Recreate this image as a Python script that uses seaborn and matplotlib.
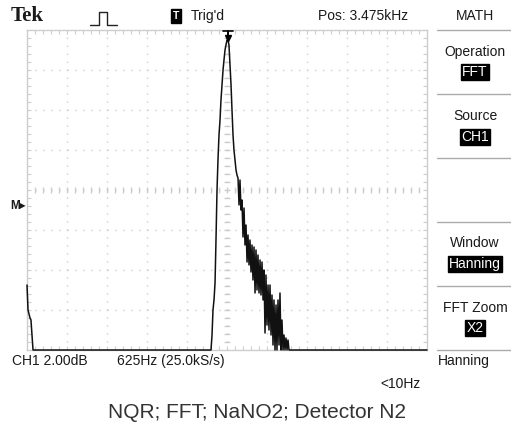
import matplotlib
matplotlib.use("Agg")
import matplotlib.pyplot as plt
from matplotlib.lines import Line2D
from matplotlib import font_manager
import seaborn as sns
import pandas as pd

# ---- data (FFT trace: frequency in Hz, level in dB above screen bottom) ----
freq_hz = [350, 366, 397, 412, 428, 444,
           3225, 3241, 3256, 3272, 3288, 3303, 3319, 3334, 3350, 3366, 3381, 3397,
           3413, 3428, 3444, 3459, 3475, 3491, 3506, 3522, 3538, 3553, 3569, 3584,
           3600, 3616, 3631,
           3647, 3663, 3678, 3694, 3709, 3725, 3741, 3756, 3772, 3788, 3803, 3819,
           3834, 3850, 3866, 3881, 3897, 3913, 3928, 3944, 3959, 3975, 3991, 4006,
           4022, 4038, 4053, 4069, 4084, 4100, 4116, 4131, 4147, 4163, 4178, 4194,
           4209, 4225, 4241, 4256, 4272, 4288, 4303, 4319, 4334, 4350, 4366, 4381,
           4397, 4413, 4428, 4444, 4459, 6600]
level_db = [3.25, 2.0, 1.6, 1.5, 0.75, 0.0,
            0.0, 0.75, 2.0, 2.5, 3.35, 5.5, 8.0, 9.5, 10.75, 11.5, 12.5, 13.25,
            14.0, 14.5, 15.0, 15.25, 15.5, 15.5, 15.25, 14.25, 13.25, 12.0, 10.75, 10.0,
            9.5, 9.0, 8.75,
            8.6, 7.25, 8.5, 7.0, 7.5, 5.65, 7.1, 5.25, 6.25, 4.4, 5.75, 4.25,
            5.5, 3.9, 5.25, 3.5, 5.15, 2.85, 5.0, 3.0, 4.75, 2.85, 4.5, 2.75,
            4.4, 2.5, 4.0, 0.85, 3.75, 1.25, 3.25, 1.0, 3.25, 0.75, 2.75, 0.25,
            2.5, 0.0, 2.25, 0.0, 2.5, 0.25, 2.85, 0.0, 1.5, 0.0, 0.75, 0.0,
            0.6, 0.0, 0.5, 0.0, 0.0, 0.0]

center_hz = 3475
hz_per_div = 625
db_per_div = 2.0

menu_titles = ["Operation", "Source", "Window", "FFT Zoom"]
menu_values = ["FFT", "CH1", "Hanning", "X2"]
title = "NQR; FFT; NaNO2; Detector N2"

# ---- style ----
sns.set_style("white")
names = {f.name for f in font_manager.fontManager.ttflist}
NARROW = "Liberation Sans Narrow" if "Liberation Sans Narrow" in names else "Liberation Sans"
plt.rcParams["font.family"] = [NARROW, "DejaVu Sans"]

W, H = 511, 428
fig = plt.figure(figsize=(W / 100, H / 100), dpi=100)
fig.patch.set_facecolor("white")

gx0, gy0, gw, gh = 27, 30, 400, 320
ax = fig.add_axes([gx0 / W, 1 - (gy0 + gh) / H, gw / W, gh / H])

xmin = center_hz - 5 * hz_per_div
xmax = center_hz + 5 * hz_per_div
ymin, ymax = 0, 8 * db_per_div
ax.set_xlim(xmin, xmax)
ax.set_ylim(ymin, ymax)

grid_c = "#cdcdcd"
# dotted graticule
for i in range(1, 10):
    ax.axvline(xmin + i * hz_per_div, color=grid_c, lw=1.0, ls=(0, (1, 4.75)), zorder=0)
for j in range(1, 8):
    ax.axhline(ymin + j * db_per_div, color=grid_c, lw=1.0, ls=(0, (1, 4.75)), zorder=0)
# center-line tick marks
cx = center_hz
cy = (ymin + ymax) / 2
minor_x = [xmin + k * hz_per_div / 5 for k in range(1, 50)]
minor_y = [ymin + k * db_per_div / 5 for k in range(1, 40)]
ax.plot(minor_x, [cy] * len(minor_x), ls="none", marker="|", ms=4, mew=1.0, color=grid_c, zorder=0)
ax.plot([cx] * len(minor_y), minor_y, ls="none", marker="_", ms=4, mew=1.0, color=grid_c, zorder=0)
# border ticks
ax.set_xticks(minor_x)
ax.set_yticks(minor_y)
ax.tick_params(axis="both", direction="in", length=3, width=0.8, color=grid_c,
               top=True, bottom=True, left=True, right=True,
               labelbottom=False, labelleft=False)
for s in ax.spines.values():
    s.set_color(grid_c)
    s.set_linewidth(1.0)

df = pd.DataFrame({"freq": freq_hz, "level": level_db})
sns.lineplot(data=df, x="freq", y="level", sort=False, estimator=None,
             color="#111111", lw=1.1, ax=ax, clip_on=False, zorder=3)
ax.set_xlabel("")
ax.set_ylabel("")


def ftxt(x, y, s, **kw):
    kw.setdefault("va", "center")
    kw.setdefault("fontsize", 10)
    kw.setdefault("color", "#1a1a1a")
    return fig.text(x / W, 1 - y / H, s, **kw)


def fline(xs, ys, **kw):
    fig.add_artist(Line2D([x / W for x in xs], [1 - y / H for y in ys],
                          transform=fig.transFigure, **kw))


# top bar
ftxt(11, 16, "Tek", family="Liberation Serif", weight="bold", fontsize=15)
fline([90, 99, 99, 107, 107, 117], [25, 25, 12, 12, 25, 25], color="#222", lw=1.0)
ftxt(176, 16, "T", ha="center", color="white", fontsize=7.5, weight="bold",
     bbox=dict(boxstyle="square,pad=0.15", fc="black", ec="black"))
ftxt(191, 16, "Trig'd")
ftxt(318, 16, "Pos: 3.475kHz")
ftxt(475, 16, "MATH", ha="center")

# trigger arrow
fline([223, 233], [31, 31], color="black", lw=1.2)
fline([228, 228], [31, 40], color="black", lw=1.4)
fig.add_artist(Line2D([228 / W], [1 - 38 / H], marker="v", ms=5, color="black",
                      transform=fig.transFigure))

# reference marker
ftxt(10, 206, "M▸", fontsize=8.5, weight="bold", family=[NARROW, "DejaVu Sans"])

# right menu
for y in [30, 94, 158, 222, 286, 350]:
    fline([437, 511], [y, y], color="#aaaaaa", lw=1.0)
menu_y = [(52, 72), (116, 137), (243, 264), (308, 328)]
for (ty, vy), t, v in zip(menu_y, menu_titles, menu_values):
    ftxt(475, ty, t, ha="center")
    ftxt(475, vy, v, ha="center", color="white",
         bbox=dict(boxstyle="square,pad=0.1", fc="black", ec="black"))

# bottom readouts
ftxt(12, 361, "CH1 2.00dB")
ftxt(117, 361, "625Hz (25.0kS/s)")
ftxt(438, 361, "Hanning")
ftxt(380, 384, "<10Hz")

ftxt(257, 412, title, ha="center", fontsize=15, family="Liberation Sans", color="#333333")

fig.savefig("out.png", dpi=100, facecolor="white")
